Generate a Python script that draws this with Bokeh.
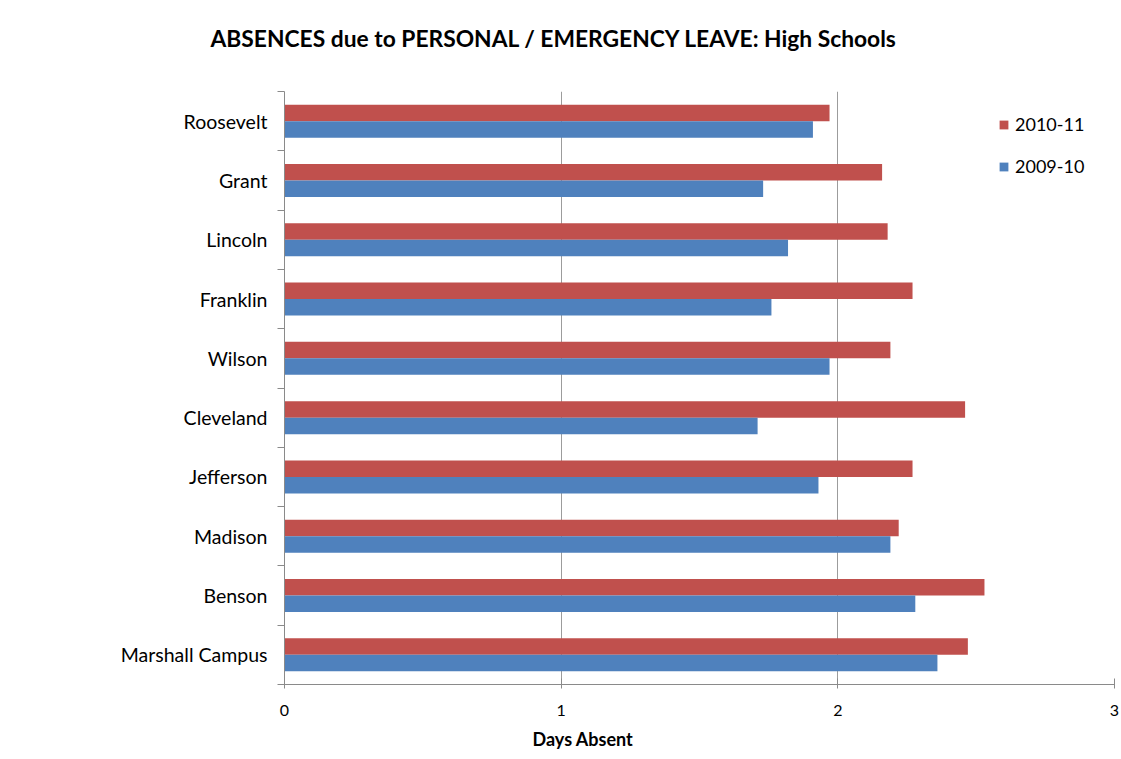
from bokeh.plotting import figure
from bokeh.models import (ColumnDataSource, Range1d, FixedTicker, Legend, LegendItem,
                          Title, LinearAxis)
from bokeh.embed import file_html
from bokeh.resources import INLINE

# ---- data (top row first) ----
schools = ["Roosevelt", "Grant", "Lincoln", "Franklin", "Wilson",
           "Cleveland", "Jefferson", "Madison", "Benson", "Marshall Campus"]
days_2010_11 = [1.97, 2.16, 2.18, 2.27, 2.19, 2.46, 2.27, 2.22, 2.53, 2.47]
days_2009_10 = [1.91, 1.73, 1.82, 1.76, 1.97, 1.71, 1.93, 2.19, 2.28, 2.36]
series_names = ["2010-11", "2009-10"]
x_ticks = [0, 1, 2, 3]
title_text = "ABSENCES due to PERSONAL / EMERGENCY LEAVE:  High Schools"
x_title = "Days Absent"

RED = "#C0504D"
BLUE = "#4F81BD"
FONT = "Lato"
GRAY = "#8a8a8a"

n = len(schools)
centers = [n - i - 0.5 for i in range(n)]
OFF = 0.139
BAR_H = 0.278

src = ColumnDataSource(dict(
    y_red=[c + OFF for c in centers],
    y_blue=[c - OFF for c in centers],
    red=days_2010_11,
    blue=days_2009_10,
))

W, H = 1121, 759
p = figure(width=W, height=H, output_backend="svg", toolbar_location=None,
           x_range=Range1d(0, 3), y_range=Range1d(0, n),
           min_border_left=284, min_border_right=W - 1114,
           min_border_top=91, min_border_bottom=H - 684,
           title=None)
p.outline_line_color = None
p.background_fill_color = "white"
p.border_fill_color = "white"

r_red = p.hbar(y="y_red", right="red", left=0, height=BAR_H, source=src,
               fill_color=RED, line_color=None)
r_blue = p.hbar(y="y_blue", right="blue", left=0, height=BAR_H, source=src,
                fill_color=BLUE, line_color=None)

# x axis
xa = p.xaxis[0]
xa.ticker = FixedTicker(ticks=x_ticks)
xa.axis_line_color = GRAY
xa.major_tick_line_color = GRAY
xa.major_tick_in = 6
xa.major_tick_out = 4
xa.minor_tick_line_color = None
xa.major_label_text_font = FONT
xa.major_label_text_font_size = "16px"
xa.major_label_text_color = "black"
xa.major_label_standoff = 16

# y axis
ya = p.yaxis[0]
ya.ticker = FixedTicker(ticks=centers, minor_ticks=list(range(n + 1)))
ya.major_label_overrides = {c: s for c, s in zip(centers, schools)}
ya.axis_line_color = GRAY
ya.major_tick_line_color = None
ya.major_tick_in = 0
ya.major_tick_out = 0
ya.minor_tick_line_color = GRAY
ya.minor_tick_in = 0
ya.minor_tick_out = 7
ya.major_label_text_font = FONT
ya.major_label_text_font_size = "19.5px"
ya.major_label_text_color = "black"
ya.major_label_standoff = 10

p.xgrid.ticker = FixedTicker(ticks=x_ticks[1:])
p.xgrid.grid_line_color = "#9c9c9c"
p.ygrid.grid_line_color = None

# spacer axis above the frame (one white tick at the right end) pushes the title up
spacer = LinearAxis(ticker=FixedTicker(ticks=[x_ticks[-1]]), axis_line_color=None,
                    major_tick_line_color="white", minor_tick_line_color=None,
                    major_tick_in=0, major_tick_out=40,
                    major_label_overrides={x_ticks[-1]: ""},
                    major_label_standoff=0, major_label_text_font_size="1px")
p.add_layout(spacer, "above")

t = Title(text=title_text, align="left", offset=-74, standoff=0,
          text_font=FONT, text_font_style="bold", text_font_size="22.8px",
          text_color="black")
p.add_layout(t, "above")

bt = Title(text=x_title, align="left", offset=248, standoff=14,
           text_font=FONT, text_font_style="bold", text_font_size="18px",
           text_color="black")
p.add_layout(bt, "below")

legend = Legend(items=[LegendItem(label=series_names[0], renderers=[r_red]),
                       LegendItem(label=series_names[1], renderers=[r_blue])],
                location=(714, 507), orientation="vertical",
                glyph_width=11, glyph_height=11, label_height=22, spacing=20,
                label_standoff=6, padding=0, margin=0,
                border_line_color=None, background_fill_alpha=0,
                label_text_font=FONT, label_text_font_size="18px",
                label_text_color="black")
p.add_layout(legend, "center")

open("out.html", "w").write(file_html(p, INLINE))
